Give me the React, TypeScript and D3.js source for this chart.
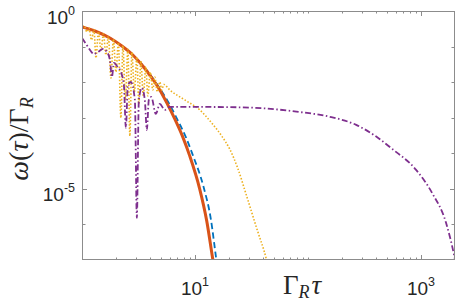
import React, { useEffect, useRef } from 'react';
import * as d3 from 'd3';

// Gamma_R * tau on x, omega(tau)/Gamma_R on y (log-log)
const solidTau = [1.0, 1.302, 1.766, 2.254, 2.818, 3.454, 4.15, 4.88, 5.63, 6.62, 7.79, 8.98, 11.0, 12.7, 14.4, 14.9];
const solidW = [0.356, 0.274, 0.174, 0.104, 0.0581, 0.0285, 0.0131, 6.04e-3, 2.61e-3, 9.25e-4, 2.89e-4, 8.45e-5, 1.0e-5, 1.26e-6, 1.01e-7, 5.2e-8];

const dashTau = [1.0, 1.302, 1.766, 2.254, 2.818, 3.454, 4.15, 4.98, 5.86, 6.9, 8.28, 9.55, 11.9, 13.8, 15.45, 15.9];
const dashW = [0.356, 0.274, 0.174, 0.104, 0.0581, 0.0294, 0.014, 6.04e-3, 2.61e-3, 9.55e-4, 2.89e-4, 9.0e-5, 1.14e-5, 1.44e-6, 1.01e-7, 5.2e-8];

const dotTau = [1.0, 1.052, 1.107, 1.153, 1.213, 1.276, 1.329, 1.398, 1.471, 1.548, 1.628, 1.713, 1.803, 1.897, 1.996, 2.1,
  2.209, 2.301, 2.421, 2.547, 2.653, 2.763, 2.907, 3.058, 3.185, 3.317, 3.49, 3.672, 3.824, 4.023, 4.233, 4.409, 4.638,
  4.88, 5.082, 5.293, 5.98, 8.11, 11.0, 14.04, 17.21, 20.25, 23.83, 28.6, 35.04, 42.96, 44.7];
const dotW = [0.392, 0.369, 0.257, 0.333, 0.153, 0.3, 0.0478, 0.264, 0.0803, 0.226, 0.0581, 0.195, 0.0131, 0.16, 0.0193, 0.129,
  9.87e-4, 0.106, 3.16e-3, 0.0834, 3.08e-4, 0.0692, 5.3e-3, 0.051, 2.44e-3, 0.0394, 4.1e-3, 0.0272, 4.1e-3, 0.0191, 6.04e-3,
  0.014, 5.3e-3, 0.0101, 6.04e-3, 8.62e-3, 6.04e-3, 3.16e-3, 1.66e-3, 7.14e-4, 3.08e-4, 1.33e-4, 3.89e-5, 6.36e-6, 8.03e-7,
  1.01e-7, 6.0e-8];

const dashDotTau = [1.0, 1.085, 1.177, 1.276, 1.384, 1.532, 1.663, 1.766, 1.84, 1.917, 2.037, 2.209, 2.348, 2.445, 2.547,
  2.707, 2.937, 3.058, 3.185, 3.385, 3.597, 3.748, 3.904, 4.105, 4.5, 4.88, 5.403, 5.98, 11.0, 20.25, 39.6, 79.0, 154.6,
  267, 401.6, 556, 905, 1253, 1666, 1960, 2041];
const dashDotW = [0.1744, 0.1183, 0.0803, 0.062, 0.0705, 0.0856, 0.0705, 0.042, 0.014, 0.0346, 0.0285, 0.0193, 8.34e-3,
  5.17e-4, 8.34e-3, 0.0101, 3.16e-3, 1.53e-6, 3.16e-3, 6.87e-3, 3.16e-3, 4.54e-4, 3.16e-3, 3.84e-3, 1.28e-3, 2.44e-3,
  1.66e-3, 2.01e-3, 2.01e-3, 1.98e-3, 1.85e-3, 1.48e-3, 1.07e-3, 6.28e-4, 2.95e-4, 1.33e-4, 3.42e-5, 7.7e-6, 1.11e-6,
  1.4e-7, 7.3e-8];

const xDomain = [1, 2000];
const yDomain = [1e-7, 1];
const xMajor = [10, 1000];
const xMajorExp = ['1', '3'];
const yMajor = [1, 1e-5];
const yMajorExp = ['0', '-5'];

const axisColor = '#8c8c8c';
const textColor = '#262626';

const createChart = (container: SVGSVGElement) => {
  const svg = d3.select(container);
  svg.selectAll('*').remove();

  const width = 457, height = 304;
  const plot = { left: 82, right: 455, top: 11, bottom: 260 };
  svg.attr('width', width).attr('height', height);

  const x = d3.scaleLog().domain(xDomain).range([plot.left, plot.right]);
  const y = d3.scaleLog().domain(yDomain).range([plot.bottom, plot.top]);

  svg.append('defs').append('clipPath').attr('id', 'plot-clip')
    .append('rect')
    .attr('x', plot.left).attr('y', plot.top)
    .attr('width', plot.right - plot.left).attr('height', plot.bottom - plot.top);

  const line = d3.line<[number, number]>()
    .x(d => x(d[0]))
    .y(d => y(d[1]))
    .curve(d3.curveMonotoneX);

  const series = [
    { tau: dashTau, w: dashW, color: '#0072BD', width: 1.8, dash: '6,3.5' },
    { tau: solidTau, w: solidW, color: '#D95319', width: 3, dash: null },
    { tau: dotTau, w: dotW, color: '#EDB120', width: 1.6, dash: '1.5,1.8' },
    { tau: dashDotTau, w: dashDotW, color: '#7E2F8E', width: 1.8, dash: '6,2.5,1.5,2.5' },
  ];

  const curves = svg.append('g').attr('clip-path', 'url(#plot-clip)');
  series.forEach(s => {
    const pts = s.tau.map((t, i) => [t, s.w[i]] as [number, number]);
    curves.append('path')
      .attr('d', line(pts))
      .attr('fill', 'none')
      .attr('stroke', s.color)
      .attr('stroke-width', s.width)
      .attr('stroke-dasharray', s.dash)
      .attr('stroke-linejoin', 'round');
  });

  // box
  const axes = svg.append('g').attr('stroke', axisColor).attr('stroke-width', 1);
  axes.append('rect')
    .attr('x', plot.left + 0.5).attr('y', plot.top + 0.5)
    .attr('width', plot.right - plot.left - 1).attr('height', plot.bottom - plot.top - 1)
    .attr('fill', 'none');

  // x ticks (bottom and top, pointing in)
  x.ticks().filter(t => t > xDomain[0] && t < xDomain[1]).forEach(t => {
    const len = xMajor.includes(t) ? 5 : 2.5;
    const px = Math.round(x(t)) + 0.5;
    axes.append('line').attr('x1', px).attr('x2', px).attr('y1', plot.bottom).attr('y2', plot.bottom - len);
    axes.append('line').attr('x1', px).attr('x2', px).attr('y1', plot.top).attr('y2', plot.top + len);
  });

  // y ticks, one per decade
  d3.range(-6, 0).map(e => Math.pow(10, e)).forEach(t => {
    const len = yMajor.includes(t) ? 5 : 3.5;
    const py = Math.round(y(t)) + 0.5;
    axes.append('line').attr('y1', py).attr('y2', py).attr('x1', plot.left).attr('x2', plot.left + len);
    axes.append('line').attr('y1', py).attr('y2', py).attr('x1', plot.right).attr('x2', plot.right - len);
  });

  const labels = svg.append('g')
    .attr('fill', textColor)
    .style('font-family', '"Liberation Sans", Arial, sans-serif');

  xMajor.forEach((t, i) => {
    const txt = labels.append('text')
      .attr('x', x(t)).attr('y', 295)
      .attr('text-anchor', 'middle')
      .style('font-size', '19px');
    txt.append('tspan').text('10');
    txt.append('tspan').attr('dy', -9).style('font-size', '12.5px').text(xMajorExp[i]);
  });

  yMajor.forEach((t, i) => {
    const txt = labels.append('text')
      .attr('x', 75).attr('y', y(t) + 12.5)
      .attr('text-anchor', 'end')
      .style('font-size', '19px');
    txt.append('tspan').text('10');
    txt.append('tspan').attr('dy', -9).style('font-size', '12.5px').text(yMajorExp[i]);
  });

  const serif = '"Liberation Serif", "Times New Roman", serif';

  // x label: Gamma_R tau
  const xl = svg.append('text')
    .attr('x', 283).attr('y', 294)
    .attr('fill', textColor)
    .style('font-family', serif)
    .style('font-size', '27px');
  xl.append('tspan').text('Γ');
  xl.append('tspan').attr('dy', 4).style('font-style', 'italic').style('font-size', '18px').text('R');
  xl.append('tspan').attr('dy', -4).attr('dx', 2).style('font-style', 'italic').text('τ');

  // y label: omega(tau)/Gamma_R
  const yl = svg.append('text')
    .attr('transform', 'translate(28,139) rotate(-90)')
    .attr('text-anchor', 'middle')
    .attr('fill', textColor)
    .style('font-family', serif)
    .style('font-size', '28px');
  yl.append('tspan').style('font-style', 'italic').text('ω');
  yl.append('tspan').text('(');
  yl.append('tspan').style('font-style', 'italic').text('τ');
  yl.append('tspan').text(')/Γ');
  yl.append('tspan').attr('dy', 5).style('font-style', 'italic').style('font-size', '18px').text('R');
};

const App = () => {
  const ref = useRef<SVGSVGElement>(null);

  useEffect(() => {
    if (ref.current) {
      createChart(ref.current);
    }
  }, []);

  return (
    <div style={{ position: 'absolute', left: 0, top: 0 }}>
      <svg ref={ref} style={{ display: 'block', background: '#fff' }} />
    </div>
  );
};

export default App;
